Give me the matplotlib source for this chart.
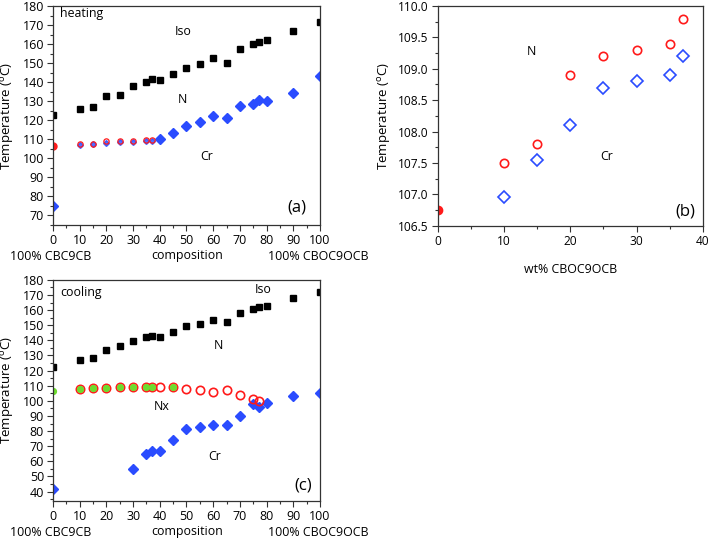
import matplotlib
matplotlib.use("Agg")
import matplotlib.pyplot as plt
from matplotlib.ticker import AutoMinorLocator, FormatStrFormatter

plt.rcParams['font.family'] = ['Open Sans', 'DejaVu Sans']
plt.rcParams['mathtext.fontset'] = 'custom'
plt.rcParams['mathtext.rm'] = 'Open Sans'

# ---- (a) heating ----
x_iso_h = [0, 10, 15, 20, 25, 30, 35, 37, 40, 45, 50, 55, 60, 65, 70, 75, 77, 80, 90, 100]
t_iso_h = [122.8, 126.0, 127.2, 132.6, 133.1, 138.2, 140.0, 141.5, 141.3, 144.3, 147.6,
           149.7, 152.5, 150.3, 157.3, 159.9, 161.3, 162.2, 167.1, 171.6]
x_cr_h = [0, 40, 45, 50, 55, 60, 65, 70, 75, 77, 80, 90, 100]
t_cr_h = [75.0, 110.2, 113.5, 117.2, 119.1, 122.3, 121.2, 127.7, 128.4, 130.7, 130.0, 134.5, 143.4]

# low-concentration detail (also panel b)
x_low = [10, 15, 20, 25, 30, 35, 37]
t_n_low = [107.5, 107.8, 108.9, 109.2, 109.3, 109.4, 109.8]
t_cr_low = [106.95, 107.55, 108.1, 108.7, 108.8, 108.9, 109.2]
x_pure = [0]
t_n_pure = [106.75]

# ---- (c) cooling ----
x_iso_c = [0, 10, 15, 20, 25, 30, 35, 37, 40, 45, 50, 55, 60, 65, 70, 75, 77, 80, 90, 100]
t_iso_c = [122.5, 126.9, 128.0, 133.3, 136.0, 139.6, 142.0, 142.9, 142.4, 145.6, 149.3,
           150.9, 153.6, 152.4, 158.2, 160.5, 162.2, 162.9, 168.0, 172.0]
x_nx_c = [10, 15, 20, 25, 30, 35, 37, 40, 45, 50, 55, 60, 65, 70, 75, 77]
t_nx_c = [107.8, 108.2, 108.7, 109.1, 109.3, 109.1, 109.1, 109.1, 109.3, 107.6, 107.1,
          106.0, 106.9, 103.6, 101.3, 99.8]
x_green = [0, 10, 15, 20, 25, 30, 35, 37, 45]
t_green = [106.7, 107.8, 108.2, 108.7, 109.1, 109.3, 109.1, 109.1, 109.3]
x_cr_c = [0, 30, 35, 37, 40, 45, 50, 55, 60, 65, 70, 75, 77, 80, 90, 100]
t_cr_c = [41.8, 55.1, 65.1, 66.9, 66.9, 74.4, 81.6, 82.4, 84.0, 84.0, 90.2, 97.6, 96.2,
          98.4, 103.3, 105.1]

BLUE = '#2a4cff'
RED = '#ff1a1a'
GREEN = '#6ddc2e'
ylab = 'Temperature ($^{\\mathrm{o}}$C)'
FS = 8.9

fig = plt.figure(figsize=(7.11, 5.4), dpi=100)
ax_a = fig.add_axes([0.0745, 0.5833, 0.3755, 0.4056])
ax_b = fig.add_axes([0.6156, 0.582, 0.3731, 0.4069])
ax_c = fig.add_axes([0.0745, 0.0728, 0.3755, 0.409])


def style(ax, size=9):
    for s in ax.spines.values():
        s.set_linewidth(0.9)
        s.set_color('#333333')
    ax.xaxis.set_minor_locator(AutoMinorLocator(2))
    ax.yaxis.set_minor_locator(AutoMinorLocator(2))
    ax.tick_params(which='both', direction='out', top=False, right=False,
                   labelsize=size, color='#333333', width=0.8, pad=2.5)
    ax.tick_params(which='major', length=4)
    ax.tick_params(which='minor', length=2.5)


# panel a
ax_a.plot(x_iso_h, t_iso_h, 's', color='black', ms=5)
ax_a.plot(x_cr_h, t_cr_h, 'D', color=BLUE, ms=5)
ax_a.plot(x_low, t_cr_low, 'D', color=BLUE, ms=3, alpha=0.8)
ax_a.plot(x_low, t_n_low, 'o', mfc='none', mec=RED, mew=0.9, ms=3.8)
ax_a.plot(x_pure, t_n_pure, 'o', color=RED, ms=5)
ax_a.set_xlim(0, 100)
ax_a.set_ylim(65, 180)
ax_a.set_xticks(range(0, 101, 10))
ax_a.set_yticks(range(70, 181, 10))
ax_a.set_ylabel(ylab, fontsize=9.5)
ax_a.yaxis.set_label_coords(-0.138, 0.5)
style(ax_a)
ax_a.text(2.6, 176, 'heating', fontsize=FS, va='center')
ax_a.text(48.7, 166.4, 'Iso', fontsize=FS, ha='center', va='center')
ax_a.text(48.4, 130.7, 'N', fontsize=FS, ha='center', va='center')
ax_a.text(57.7, 100.8, 'Cr', fontsize=FS, ha='center', va='center')
ax_a.text(91.5, 74, '(a)', fontsize=12, ha='center', va='center')

# panel b
ax_b.plot(x_low, t_n_low, 'o', mfc='none', mec=RED, mew=1.2, ms=6)
ax_b.plot(x_low, t_cr_low, 'D', mfc='none', mec=BLUE, mew=1.2, ms=6)
ax_b.plot(x_pure, t_n_pure, 'o', color=RED, ms=6)
ax_b.set_xlim(0, 40)
ax_b.set_ylim(106.5, 110.0)
ax_b.set_xticks(range(0, 41, 10))
ax_b.set_yticks([106.5 + 0.5 * i for i in range(8)])
ax_b.yaxis.set_major_formatter(FormatStrFormatter('%.1f'))
ax_b.set_ylabel(ylab, fontsize=9.5)
ax_b.yaxis.set_label_coords(-0.168, 0.5)
ax_b.set_xlabel('wt% CBOC9OCB', fontsize=FS, labelpad=11)
style(ax_b, size=8.6)
ax_b.text(14.1, 109.28, 'N', fontsize=FS, ha='center', va='center')
ax_b.text(25.4, 107.6, 'Cr', fontsize=FS, ha='center', va='center')
ax_b.text(37.3, 106.73, '(b)', fontsize=12, ha='center', va='center')

# panel c
ax_c.plot(x_iso_c, t_iso_c, 's', color='black', ms=5)
ax_c.plot(x_cr_c, t_cr_c, 'D', color=BLUE, ms=5)
ax_c.plot(x_nx_c, t_nx_c, 'o', mfc='none', mec=RED, mew=1.2, ms=6)
ax_c.plot(x_green, t_green, 'o', color=GREEN, ms=4.2)
ax_c.set_xlim(0, 100)
ax_c.set_ylim(34, 180)
ax_c.set_xticks(range(0, 101, 10))
ax_c.set_yticks(range(40, 181, 10))
ax_c.set_ylabel(ylab, fontsize=9.5)
ax_c.yaxis.set_label_coords(-0.138, 0.5)
style(ax_c)
ax_c.text(2.6, 171.8, 'cooling', fontsize=FS, va='center')
ax_c.text(78.7, 173.8, 'Iso', fontsize=FS, ha='center', va='center')
ax_c.text(61.9, 136.7, 'N', fontsize=FS, ha='center', va='center')
ax_c.text(40.9, 96.2, 'Nx', fontsize=FS, ha='center', va='center')
ax_c.text(60.7, 63, 'Cr', fontsize=FS, ha='center', va='center')
ax_c.text(93.7, 44, '(c)', fontsize=12, ha='center', va='center')

# composition captions under panels a and c
for ypix in (257, 533):
    yf = 1 - ypix / 540
    fig.text(50.5 / 711, yf, '100% CBC9CB', fontsize=FS, ha='center', va='center')
    fig.text(187 / 711, yf + 2 / 540, 'composition', fontsize=FS, ha='center', va='center')
    fig.text(268 / 711, yf, '100% CBOC9OCB', fontsize=FS, ha='left', va='center')

fig.savefig('out.png', dpi=100)
